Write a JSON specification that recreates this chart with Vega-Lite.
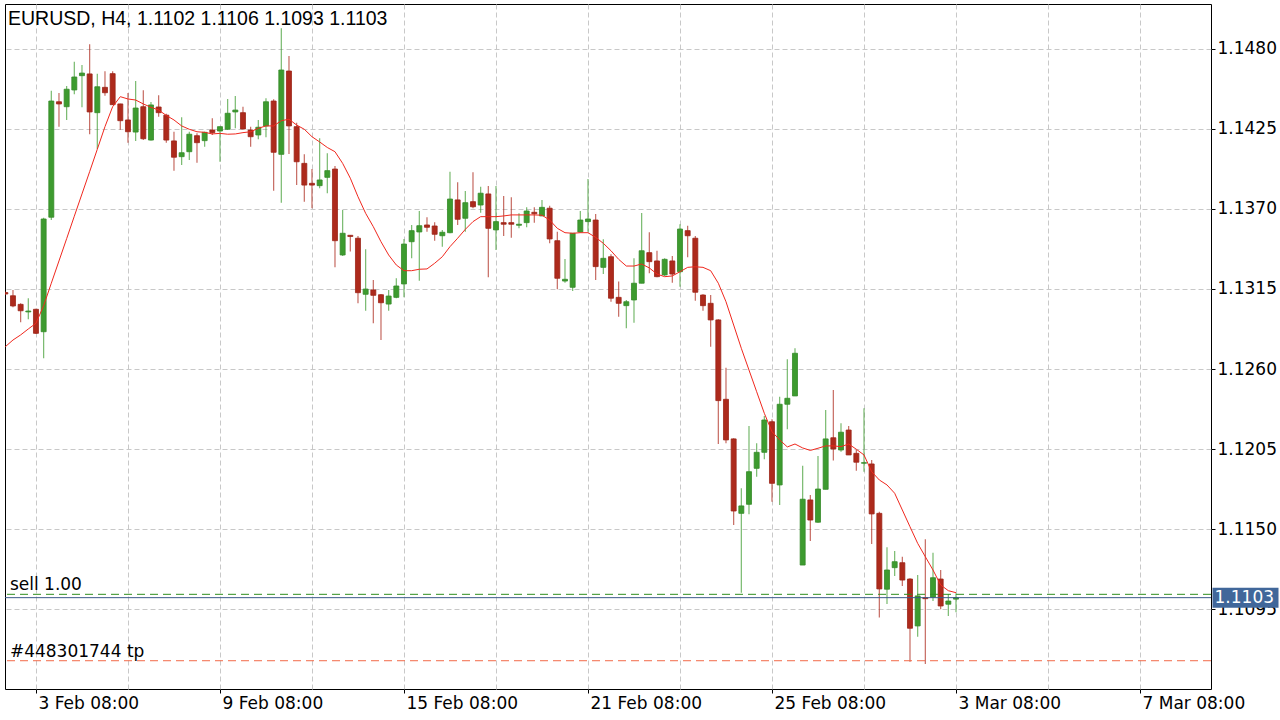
{
  "$schema": "https://vega.github.io/schema/vega-lite/v6.json",
  "width": 1206,
  "height": 685,
  "autosize": {"type": "none"},
  "padding": {"left": 5, "top": 4, "right": 69, "bottom": 31},
  "background": "#ffffff",
  "config": {
    "view": {"stroke": "#000000", "strokeWidth": 1},
    "axis": {"title": null},
    "scale": {"continuousPadding": 0}
  },
  "title": {
    "text": "EURUSD, H4, 1.1102 1.1106 1.1093 1.1103",
    "anchor": "start",
    "frame": "group",
    "orient": "top",
    "offset": -25,
    "dx": 3,
    "font": "Liberation Sans",
    "fontSize": 19.5,
    "fontWeight": "normal",
    "color": "#000000"
  },
  "datasets": {
    "candles": [
      {"i": -4, "o": 1.13125, "h": 1.13132, "l": 1.13108, "c": 1.13115, "ma": 1.12753},
      {"i": -3, "o": 1.13103, "h": 1.13143, "l": 1.13024, "c": 1.13033, "ma": 1.12799},
      {"i": -2, "o": 1.13044, "h": 1.13051, "l": 1.12921, "c": 1.13000, "ma": 1.12834},
      {"i": -1, "o": 1.12992, "h": 1.13086, "l": 1.12941, "c": 1.12998, "ma": 1.12875},
      {"i": 0, "o": 1.13010, "h": 1.13014, "l": 1.12840, "c": 1.12845, "ma": 1.12914},
      {"i": 1, "o": 1.12856, "h": 1.13639, "l": 1.12674, "c": 1.13630, "ma": 1.13035},
      {"i": 2, "o": 1.13642, "h": 1.14511, "l": 1.13623, "c": 1.14440, "ma": 1.13189},
      {"i": 3, "o": 1.14435, "h": 1.14495, "l": 1.14264, "c": 1.14420, "ma": 1.13342},
      {"i": 4, "o": 1.14401, "h": 1.14543, "l": 1.14310, "c": 1.14521, "ma": 1.13495},
      {"i": 5, "o": 1.14516, "h": 1.14710, "l": 1.14486, "c": 1.14605, "ma": 1.13649},
      {"i": 6, "o": 1.14614, "h": 1.14687, "l": 1.14397, "c": 1.14632, "ma": 1.13802},
      {"i": 7, "o": 1.14626, "h": 1.14830, "l": 1.14212, "c": 1.14365, "ma": 1.13955},
      {"i": 8, "o": 1.14360, "h": 1.14628, "l": 1.14111, "c": 1.14538, "ma": 1.14109},
      {"i": 9, "o": 1.14534, "h": 1.14644, "l": 1.14477, "c": 1.14497, "ma": 1.14264},
      {"i": 10, "o": 1.14628, "h": 1.14644, "l": 1.14413, "c": 1.14415, "ma": 1.14401},
      {"i": 11, "o": 1.14420, "h": 1.14422, "l": 1.14243, "c": 1.14305, "ma": 1.14470},
      {"i": 12, "o": 1.14310, "h": 1.14495, "l": 1.14154, "c": 1.14229, "ma": 1.14454},
      {"i": 13, "o": 1.14227, "h": 1.14578, "l": 1.14166, "c": 1.14392, "ma": 1.14447},
      {"i": 14, "o": 1.14401, "h": 1.14514, "l": 1.14172, "c": 1.14181, "ma": 1.14420},
      {"i": 15, "o": 1.14172, "h": 1.14433, "l": 1.14169, "c": 1.14413, "ma": 1.14397},
      {"i": 16, "o": 1.14399, "h": 1.14479, "l": 1.14332, "c": 1.14360, "ma": 1.14378},
      {"i": 17, "o": 1.14343, "h": 1.14353, "l": 1.14154, "c": 1.14172, "ma": 1.14341},
      {"i": 18, "o": 1.14166, "h": 1.14229, "l": 1.13962, "c": 1.14054, "ma": 1.14310},
      {"i": 19, "o": 1.14058, "h": 1.14328, "l": 1.14001, "c": 1.14085, "ma": 1.14269},
      {"i": 20, "o": 1.14092, "h": 1.14229, "l": 1.14035, "c": 1.14212, "ma": 1.14246},
      {"i": 21, "o": 1.14202, "h": 1.14218, "l": 1.14017, "c": 1.14154, "ma": 1.14229},
      {"i": 22, "o": 1.14168, "h": 1.14229, "l": 1.14126, "c": 1.14225, "ma": 1.14225},
      {"i": 23, "o": 1.14241, "h": 1.14321, "l": 1.14207, "c": 1.14223, "ma": 1.14214},
      {"i": 24, "o": 1.14234, "h": 1.14264, "l": 1.14023, "c": 1.14264, "ma": 1.14218},
      {"i": 25, "o": 1.14246, "h": 1.14454, "l": 1.14241, "c": 1.14356, "ma": 1.14212},
      {"i": 26, "o": 1.14365, "h": 1.14475, "l": 1.14253, "c": 1.14378, "ma": 1.14214},
      {"i": 27, "o": 1.14360, "h": 1.14401, "l": 1.14246, "c": 1.14248, "ma": 1.14223},
      {"i": 28, "o": 1.14241, "h": 1.14264, "l": 1.14126, "c": 1.14195, "ma": 1.14229},
      {"i": 29, "o": 1.14207, "h": 1.14310, "l": 1.14177, "c": 1.14260, "ma": 1.14253},
      {"i": 30, "o": 1.14269, "h": 1.14459, "l": 1.14191, "c": 1.14435, "ma": 1.14269},
      {"i": 31, "o": 1.14440, "h": 1.14452, "l": 1.13824, "c": 1.14088, "ma": 1.14269},
      {"i": 32, "o": 1.14074, "h": 1.14939, "l": 1.13742, "c": 1.14653, "ma": 1.14305},
      {"i": 33, "o": 1.14646, "h": 1.14749, "l": 1.14076, "c": 1.14269, "ma": 1.14315},
      {"i": 34, "o": 1.14264, "h": 1.14291, "l": 1.13863, "c": 1.14023, "ma": 1.14275},
      {"i": 35, "o": 1.14012, "h": 1.14074, "l": 1.13749, "c": 1.13863, "ma": 1.14246},
      {"i": 36, "o": 1.13875, "h": 1.13973, "l": 1.13704, "c": 1.13863, "ma": 1.14195},
      {"i": 37, "o": 1.13859, "h": 1.14184, "l": 1.13841, "c": 1.13898, "ma": 1.14159},
      {"i": 38, "o": 1.13916, "h": 1.14081, "l": 1.13807, "c": 1.13962, "ma": 1.14121},
      {"i": 39, "o": 1.13973, "h": 1.13994, "l": 1.13298, "c": 1.13481, "ma": 1.14092},
      {"i": 40, "o": 1.13383, "h": 1.13692, "l": 1.13376, "c": 1.13532, "ma": 1.14012},
      {"i": 41, "o": 1.13518, "h": 1.13518, "l": 1.13406, "c": 1.13510, "ma": 1.13910},
      {"i": 42, "o": 1.13498, "h": 1.13513, "l": 1.13051, "c": 1.13124, "ma": 1.13783},
      {"i": 43, "o": 1.13113, "h": 1.13422, "l": 1.13000, "c": 1.13149, "ma": 1.13669},
      {"i": 44, "o": 1.13143, "h": 1.13211, "l": 1.12914, "c": 1.13106, "ma": 1.13577},
      {"i": 45, "o": 1.13110, "h": 1.13115, "l": 1.12799, "c": 1.13055, "ma": 1.13474},
      {"i": 46, "o": 1.13046, "h": 1.13143, "l": 1.13000, "c": 1.13101, "ma": 1.13383},
      {"i": 47, "o": 1.13092, "h": 1.13223, "l": 1.13086, "c": 1.13170, "ma": 1.13314},
      {"i": 48, "o": 1.13184, "h": 1.13493, "l": 1.13092, "c": 1.13458, "ma": 1.13275},
      {"i": 49, "o": 1.13474, "h": 1.13589, "l": 1.13360, "c": 1.13550, "ma": 1.13275},
      {"i": 50, "o": 1.13541, "h": 1.13685, "l": 1.13206, "c": 1.13584, "ma": 1.13285},
      {"i": 51, "o": 1.13589, "h": 1.13642, "l": 1.13543, "c": 1.13573, "ma": 1.13287},
      {"i": 52, "o": 1.13582, "h": 1.13607, "l": 1.13481, "c": 1.13525, "ma": 1.13326},
      {"i": 53, "o": 1.13515, "h": 1.13555, "l": 1.13440, "c": 1.13539, "ma": 1.13371},
      {"i": 54, "o": 1.13536, "h": 1.13955, "l": 1.13532, "c": 1.13767, "ma": 1.13440},
      {"i": 55, "o": 1.13761, "h": 1.13882, "l": 1.13589, "c": 1.13628, "ma": 1.13498},
      {"i": 56, "o": 1.13635, "h": 1.13822, "l": 1.13543, "c": 1.13742, "ma": 1.13559},
      {"i": 57, "o": 1.13749, "h": 1.13951, "l": 1.13704, "c": 1.13714, "ma": 1.13612},
      {"i": 58, "o": 1.13726, "h": 1.13852, "l": 1.13673, "c": 1.13807, "ma": 1.13646},
      {"i": 59, "o": 1.13802, "h": 1.13857, "l": 1.13230, "c": 1.13566, "ma": 1.13646},
      {"i": 60, "o": 1.13555, "h": 1.13857, "l": 1.13417, "c": 1.13612, "ma": 1.13646},
      {"i": 61, "o": 1.13605, "h": 1.13788, "l": 1.13513, "c": 1.13594, "ma": 1.13651},
      {"i": 62, "o": 1.13605, "h": 1.13779, "l": 1.13502, "c": 1.13594, "ma": 1.13658},
      {"i": 63, "o": 1.13587, "h": 1.13669, "l": 1.13566, "c": 1.13594, "ma": 1.13658},
      {"i": 64, "o": 1.13605, "h": 1.13710, "l": 1.13573, "c": 1.13685, "ma": 1.13658},
      {"i": 65, "o": 1.13676, "h": 1.13710, "l": 1.13605, "c": 1.13666, "ma": 1.13658},
      {"i": 66, "o": 1.13651, "h": 1.13761, "l": 1.13651, "c": 1.13710, "ma": 1.13656},
      {"i": 67, "o": 1.13704, "h": 1.13721, "l": 1.13463, "c": 1.13493, "ma": 1.13623},
      {"i": 68, "o": 1.13481, "h": 1.13543, "l": 1.13147, "c": 1.13223, "ma": 1.13566},
      {"i": 69, "o": 1.13204, "h": 1.13355, "l": 1.13193, "c": 1.13216, "ma": 1.13536},
      {"i": 70, "o": 1.13161, "h": 1.13532, "l": 1.13136, "c": 1.13532, "ma": 1.13532},
      {"i": 71, "o": 1.13541, "h": 1.13685, "l": 1.13536, "c": 1.13623, "ma": 1.13536},
      {"i": 72, "o": 1.13612, "h": 1.13905, "l": 1.13543, "c": 1.13630, "ma": 1.13536},
      {"i": 73, "o": 1.13623, "h": 1.13664, "l": 1.13211, "c": 1.13303, "ma": 1.13504},
      {"i": 74, "o": 1.13298, "h": 1.13491, "l": 1.13252, "c": 1.13360, "ma": 1.13463},
      {"i": 75, "o": 1.13371, "h": 1.13388, "l": 1.13062, "c": 1.13086, "ma": 1.13412},
      {"i": 76, "o": 1.13092, "h": 1.13200, "l": 1.12959, "c": 1.13051, "ma": 1.13353},
      {"i": 77, "o": 1.13035, "h": 1.13074, "l": 1.12880, "c": 1.13062, "ma": 1.13307},
      {"i": 78, "o": 1.13074, "h": 1.13360, "l": 1.12918, "c": 1.13189, "ma": 1.13307},
      {"i": 79, "o": 1.13189, "h": 1.13671, "l": 1.13189, "c": 1.13412, "ma": 1.13321},
      {"i": 80, "o": 1.13399, "h": 1.13539, "l": 1.13257, "c": 1.13337, "ma": 1.13294},
      {"i": 81, "o": 1.13342, "h": 1.13412, "l": 1.13230, "c": 1.13234, "ma": 1.13252},
      {"i": 82, "o": 1.13246, "h": 1.13360, "l": 1.13239, "c": 1.13353, "ma": 1.13234},
      {"i": 83, "o": 1.13342, "h": 1.13376, "l": 1.13193, "c": 1.13252, "ma": 1.13239},
      {"i": 84, "o": 1.13268, "h": 1.13594, "l": 1.13165, "c": 1.13561, "ma": 1.13268},
      {"i": 85, "o": 1.13550, "h": 1.13584, "l": 1.13367, "c": 1.13515, "ma": 1.13298},
      {"i": 86, "o": 1.13498, "h": 1.13513, "l": 1.13069, "c": 1.13127, "ma": 1.13302},
      {"i": 87, "o": 1.13108, "h": 1.13113, "l": 1.13000, "c": 1.13035, "ma": 1.13298},
      {"i": 88, "o": 1.13051, "h": 1.13108, "l": 1.12753, "c": 1.12937, "ma": 1.13275},
      {"i": 89, "o": 1.12937, "h": 1.12941, "l": 1.12085, "c": 1.12383, "ma": 1.13189},
      {"i": 90, "o": 1.12392, "h": 1.12609, "l": 1.12090, "c": 1.12113, "ma": 1.13062},
      {"i": 91, "o": 1.12120, "h": 1.12124, "l": 1.11529, "c": 1.11625, "ma": 1.12902},
      {"i": 92, "o": 1.11609, "h": 1.11781, "l": 1.11064, "c": 1.11660, "ma": 1.12742},
      {"i": 93, "o": 1.11671, "h": 1.12209, "l": 1.11603, "c": 1.11895, "ma": 1.12593},
      {"i": 94, "o": 1.11918, "h": 1.12090, "l": 1.11861, "c": 1.12028, "ma": 1.12444},
      {"i": 95, "o": 1.12028, "h": 1.12277, "l": 1.11980, "c": 1.12250, "ma": 1.12296},
      {"i": 96, "o": 1.12238, "h": 1.12255, "l": 1.11689, "c": 1.11815, "ma": 1.12170},
      {"i": 97, "o": 1.11804, "h": 1.12410, "l": 1.11666, "c": 1.12358, "ma": 1.12113},
      {"i": 98, "o": 1.12358, "h": 1.12667, "l": 1.12186, "c": 1.12399, "ma": 1.12065},
      {"i": 99, "o": 1.12415, "h": 1.12742, "l": 1.12415, "c": 1.12708, "ma": 1.12085},
      {"i": 100, "o": 1.11254, "h": 1.11936, "l": 1.11254, "c": 1.11706, "ma": 1.12058},
      {"i": 101, "o": 1.11701, "h": 1.11735, "l": 1.11419, "c": 1.11563, "ma": 1.12041},
      {"i": 102, "o": 1.11548, "h": 1.12003, "l": 1.11545, "c": 1.11776, "ma": 1.12056},
      {"i": 103, "o": 1.11774, "h": 1.12319, "l": 1.11774, "c": 1.12120, "ma": 1.12072},
      {"i": 104, "o": 1.12128, "h": 1.12456, "l": 1.11971, "c": 1.12051, "ma": 1.12072},
      {"i": 105, "o": 1.12044, "h": 1.12227, "l": 1.12032, "c": 1.12166, "ma": 1.12067},
      {"i": 106, "o": 1.12181, "h": 1.12209, "l": 1.12010, "c": 1.12010, "ma": 1.12085},
      {"i": 107, "o": 1.12021, "h": 1.12044, "l": 1.11902, "c": 1.11960, "ma": 1.12049},
      {"i": 108, "o": 1.11953, "h": 1.12330, "l": 1.11895, "c": 1.11957, "ma": 1.12010},
      {"i": 109, "o": 1.11948, "h": 1.11975, "l": 1.11399, "c": 1.11605, "ma": 1.11895},
      {"i": 110, "o": 1.11609, "h": 1.11620, "l": 1.10893, "c": 1.11090, "ma": 1.11838},
      {"i": 111, "o": 1.11088, "h": 1.11376, "l": 1.10987, "c": 1.11220, "ma": 1.11804},
      {"i": 112, "o": 1.11236, "h": 1.11351, "l": 1.11179, "c": 1.11277, "ma": 1.11747},
      {"i": 113, "o": 1.11270, "h": 1.11311, "l": 1.11110, "c": 1.11151, "ma": 1.11632},
      {"i": 114, "o": 1.11158, "h": 1.11163, "l": 1.10590, "c": 1.10820, "ma": 1.11517},
      {"i": 115, "o": 1.10836, "h": 1.11186, "l": 1.10762, "c": 1.11042, "ma": 1.11403},
      {"i": 116, "o": 1.11030, "h": 1.11431, "l": 1.10575, "c": 1.11023, "ma": 1.11311},
      {"i": 117, "o": 1.11033, "h": 1.11339, "l": 1.11007, "c": 1.11167, "ma": 1.11220},
      {"i": 118, "o": 1.11158, "h": 1.11220, "l": 1.10950, "c": 1.10973, "ma": 1.11117},
      {"i": 119, "o": 1.10985, "h": 1.11055, "l": 1.10904, "c": 1.11007, "ma": 1.11078},
      {"i": 120, "o": 1.1102, "h": 1.1106, "l": 1.1093, "c": 1.1103, "ma": 1.11064}
    ]
  },
  "layer": [
    {
      "data": {"name": "candles"},
      "mark": {"type": "rule", "strokeWidth": 1.2, "opacity": 0.7, "clip": true},
      "encoding": {
        "x": {
          "field": "i", "type": "quantitative",
          "scale": {"domain": [-4.04, 153.26], "nice": false, "zero": false, "padding": 0},
          "axis": {
            "orient": "bottom",
            "values": [0, 12, 24, 36, 48, 60, 72, 84, 96, 108, 120, 132, 144],
            "grid": true, "gridColor": "#c8c8c8", "gridDash": [5, 3], "gridWidth": 1,
            "domain": false,
            "ticks": true, "tickSize": 4, "tickColor": "#000000", "tickWidth": 1,
            "tickOpacity": {"condition": {"test": "datum.value % 24 === 0", "value": 1}, "value": 0},
            "labelExpr": "datum.value == 0 ? '3 Feb 08:00' : datum.value == 24 ? '9 Feb 08:00' : datum.value == 48 ? '15 Feb 08:00' : datum.value == 72 ? '21 Feb 08:00' : datum.value == 96 ? '25 Feb 08:00' : datum.value == 120 ? '3 Mar 08:00' : datum.value == 144 ? '7 Mar 08:00' : ''",
            "labelAlign": "left", "labelOffset": 2, "labelBaseline": "alphabetic", "labelPadding": 15,
            "labelFont": "DejaVu Sans", "labelFontSize": 17, "labelColor": "#000000",
            "labelOverlap": false, "labelFlush": false, "labelBound": false,
            "title": null
          }
        },
        "y": {
          "field": "l", "type": "quantitative",
          "scale": {"domain": [1.104029, 1.151062], "nice": false, "zero": false, "padding": 0},
          "axis": {
            "orient": "right",
            "values": [1.1095, 1.115, 1.1205, 1.126, 1.1315, 1.137, 1.1425, 1.148],
            "format": ".4f",
            "grid": true, "gridColor": "#c8c8c8", "gridDash": [5, 3], "gridWidth": 1,
            "domain": false,
            "ticks": true, "tickSize": 4, "tickColor": "#000000", "tickWidth": 1,
            "labelAlign": "left", "labelBaseline": "middle", "labelPadding": 2,
            "labelFont": "DejaVu Sans", "labelFontSize": 17, "labelColor": "#000000",
            "labelOverlap": false, "labelFlush": false, "labelBound": false,
            "title": null
          }
        },
        "y2": {"field": "h"},
        "color": {"condition": {"test": "datum.c >= datum.o", "value": "#3d9b2f"}, "value": "#ad2a1c"}
      }
    },
    {
      "data": {"name": "candles"},
      "mark": {"type": "bar", "size": 5, "strokeWidth": 0.8, "clip": true},
      "encoding": {
        "x": {"field": "i", "type": "quantitative", "scale": {"domain": [-4.04, 153.26], "nice": false, "zero": false, "padding": 0}},
        "y": {"field": "o", "type": "quantitative", "scale": {"domain": [1.104029, 1.151062], "nice": false, "zero": false, "padding": 0}},
        "y2": {"field": "c"},
        "fill": {"condition": {"test": "datum.c >= datum.o", "value": "#3d9b2f"}, "value": "#ad2a1c"},
        "stroke": {"condition": {"test": "datum.c >= datum.o", "value": "#358a28"}, "value": "#9c2418"}
      }
    },
    {
      "data": {"name": "candles"},
      "mark": {"type": "line", "color": "#f0281e", "strokeWidth": 1, "clip": true},
      "encoding": {
        "x": {"field": "i", "type": "quantitative", "scale": {"domain": [-4.04, 153.26], "nice": false, "zero": false, "padding": 0}},
        "y": {"field": "ma", "type": "quantitative", "scale": {"domain": [1.104029, 1.151062], "nice": false, "zero": false, "padding": 0}}
      }
    },
    {
      "data": {"values": [{"p": 1.11053}]},
      "mark": {"type": "rule", "color": "#2f8f1f", "strokeWidth": 1, "strokeDash": [8, 5]},
      "encoding": {
        "y": {"field": "p", "type": "quantitative", "scale": {"domain": [1.104029, 1.151062], "nice": false, "zero": false, "padding": 0}}
      }
    },
    {
      "data": {"values": [{"p": 1.10597}]},
      "mark": {"type": "rule", "color": "#f26a48", "strokeWidth": 1, "strokeDash": [8, 5]},
      "encoding": {
        "y": {"field": "p", "type": "quantitative", "scale": {"domain": [1.104029, 1.151062], "nice": false, "zero": false, "padding": 0}}
      }
    },
    {
      "data": {"values": [{"p": 1.1103}]},
      "mark": {"type": "rule", "color": "#3b5a8a", "strokeWidth": 1},
      "encoding": {
        "y": {"field": "p", "type": "quantitative", "scale": {"domain": [1.104029, 1.151062], "nice": false, "zero": false, "padding": 0}}
      }
    },
    {
      "data": {"values": [{"p": 1.11053, "label": "sell 1.00"}, {"p": 1.10597, "label": "#448301744 tp"}]},
      "mark": {"type": "text", "align": "left", "baseline": "alphabetic", "dy": -4, "font": "DejaVu Sans", "fontSize": 17, "color": "#000000"},
      "encoding": {
        "x": {"datum": -3.4, "type": "quantitative", "scale": {"domain": [-4.04, 153.26], "nice": false, "zero": false, "padding": 0}},
        "y": {"field": "p", "type": "quantitative", "scale": {"domain": [1.104029, 1.151062], "nice": false, "zero": false, "padding": 0}},
        "text": {"field": "label"}
      }
    },
    {
      "data": {"values": [{"p": 1.1103, "label": "1.1103"}]},
      "mark": {"type": "tick", "orient": "horizontal", "size": 66, "thickness": 20, "color": "#41679a", "opacity": 1},
      "encoding": {
        "x": {"datum": 157.76, "type": "quantitative", "scale": {"domain": [-4.04, 153.26], "nice": false, "zero": false, "padding": 0}},
        "y": {"field": "p", "type": "quantitative", "scale": {"domain": [1.104029, 1.151062], "nice": false, "zero": false, "padding": 0}}
      }
    },
    {
      "data": {"values": [{"p": 1.1103, "label": "1.1103"}]},
      "mark": {"type": "text", "align": "center", "baseline": "middle", "font": "DejaVu Sans", "fontSize": 17, "color": "#ffffff"},
      "encoding": {
        "x": {"datum": 157.6, "type": "quantitative", "scale": {"domain": [-4.04, 153.26], "nice": false, "zero": false, "padding": 0}},
        "y": {"field": "p", "type": "quantitative", "scale": {"domain": [1.104029, 1.151062], "nice": false, "zero": false, "padding": 0}},
        "text": {"field": "label"}
      }
    }
  ]
}
